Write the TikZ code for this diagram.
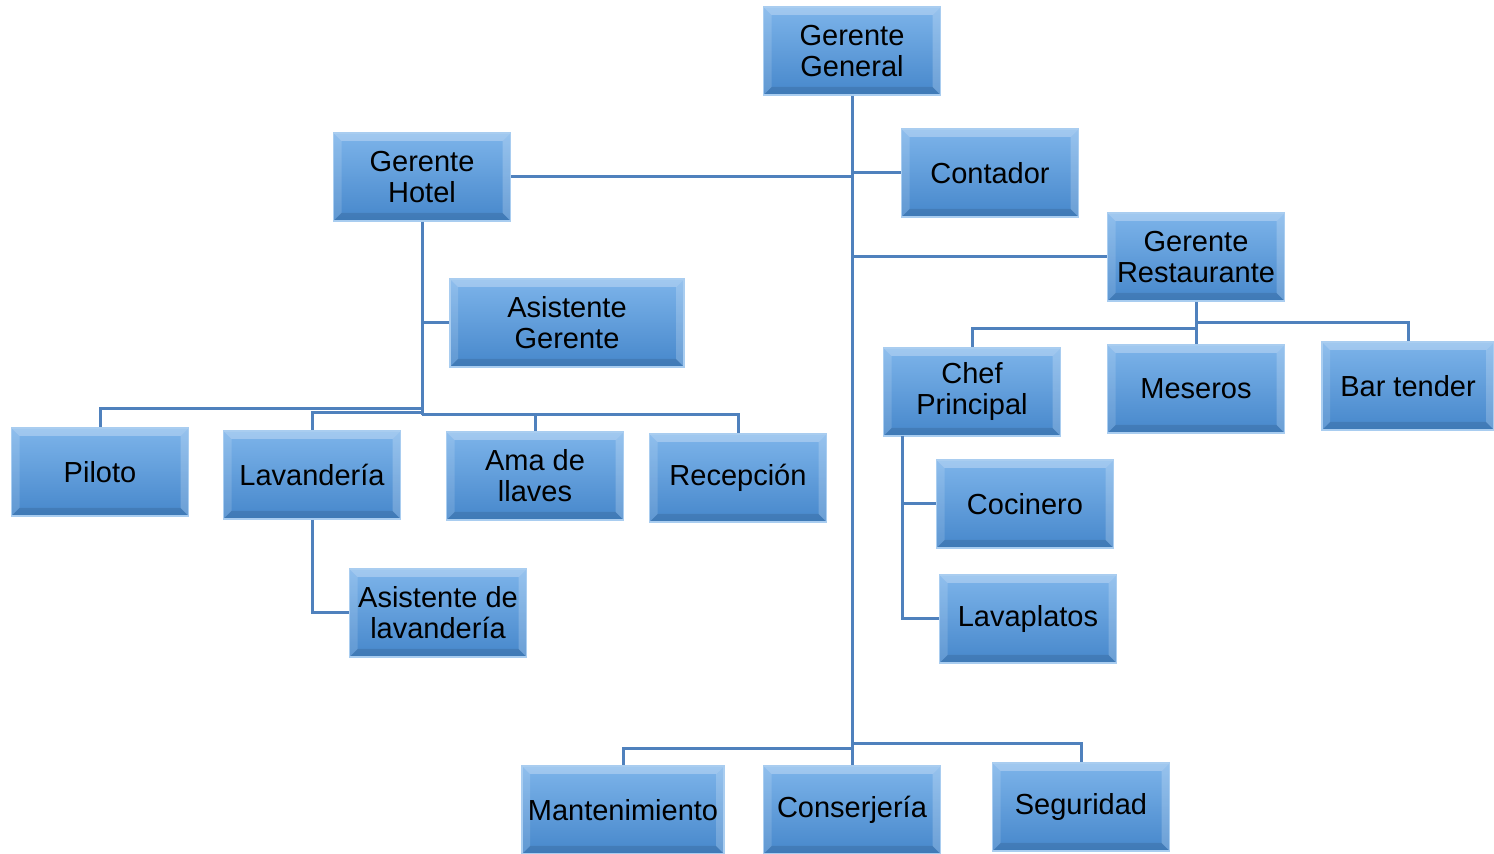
\documentclass[tikz,border=0pt]{standalone}
\usepackage{fontspec}
\setmainfont{Liberation Sans}
\usetikzlibrary{calc}
\definecolor{cajaarriba}{HTML}{7DB4EA}
\definecolor{cajaabajo}{HTML}{4687CB}
\definecolor{cajaborde}{HTML}{A9CDF0}
\definecolor{linea}{HTML}{4F81BD}
\tikzset{
  % node styles
  cargo/.style={rectangle, align=center, inner sep=0pt, minimum width=88.5pt, minimum height=44pt,
    top color=cajaarriba, bottom color=cajaabajo, draw=cajaborde, line width=0.8pt,
    font=\fontsize{14.5pt}{15.5pt}\selectfont,
    path picture={
      \fill[white,opacity=.28] (path picture bounding box.north west) -- (path picture bounding box.north east)
        -- ([shift={(-4pt,-4pt)}]path picture bounding box.north east) -- ([shift={(4pt,-4pt)}]path picture bounding box.north west) -- cycle;
      \fill[white,opacity=.14] (path picture bounding box.north west) -- (path picture bounding box.south west)
        -- ([shift={(4pt,4pt)}]path picture bounding box.south west) -- ([shift={(4pt,-4pt)}]path picture bounding box.north west) -- cycle;
      \fill[black,opacity=.10] (path picture bounding box.south west) -- (path picture bounding box.south east)
        -- ([shift={(-4pt,4pt)}]path picture bounding box.south east) -- ([shift={(4pt,4pt)}]path picture bounding box.south west) -- cycle;
      \fill[white,opacity=.20] (path picture bounding box.north east) -- (path picture bounding box.south east)
        -- ([shift={(-4pt,4pt)}]path picture bounding box.south east) -- ([shift={(-4pt,-4pt)}]path picture bounding box.north east) -- cycle;
    }},
  ancho/.style={cargo, minimum width=#1},
  % edge styles
  rama/.style={draw=linea, line width=1.5pt},
}

\begin{document}
\begin{tikzpicture}[x=0.5pt,y=-0.5pt]
  \useasboundingbox (0,0) rectangle (1494,854);
  % top level
  \node(GG)[cargo] at (852,51) {Gerente\\General};
  \node(GH)[cargo] at (422,177) {Gerente\\Hotel};
  \node(CT)[cargo] at (990,173) {Contador};
  \node(GR)[cargo] at (1196,257) {Gerente\\Restaurante};
  % hotel
  \node(AG)[ancho=117pt] at (567,323) {Asistente\\Gerente};
  \node(PI)[cargo] at (100,472) {Piloto};
  \node(LA)[cargo] at (312,475) {Lavandería};
  \node(AM)[cargo] at (535,476) {Ama de\\llaves};
  \node(RE)[cargo] at (738,478) {Recepción};
  \node(AL)[cargo] at (438,613) {Asistente de\\lavandería};
  % restaurante
  \node(CP)[cargo] at (972,392) {Chef\\Principal};
  \node(ME)[cargo] at (1196,389) {Meseros};
  \node(BT)[ancho=86pt] at (1408,386) {Bar tender};
  \node(CO)[cargo] at (1025,504) {Cocinero};
  \node(LP)[cargo] at (1028,619) {Lavaplatos};
  % bottom
  \node(MA)[ancho=101pt] at (623,810) {Mantenimiento};
  \node(CS)[cargo] at (852,810) {Conserjería};
  \node(SE)[cargo] at (1081,807) {Seguridad};

  % fork points
  \coordinate(GGX1) at (852,749);
  \coordinate(GGX2) at (852,744);
  \coordinate(GHX1) at (422,409);
  \coordinate(GHX2) at (422,413);
  \coordinate(GHX3) at (422,415);
  \coordinate(GRX1) at (1196,329);
  \coordinate(GRX2) at (1196,323);
  \coordinate(CPX1) at (902,436);

  % connectors
  \draw[rama] (GG.south) -- (GGX1);
  \draw[rama] (GH.east) -- (GH.east -| GG.south);
  \draw[rama] (CT.west) -- (CT.west -| GG.south);
  \draw[rama] (GR.west) -- (GR.west -| GG.south);
  \draw[rama] (GGX1) -| (MA.north);
  \draw[rama] (GGX1) -- (CS.north);
  \draw[rama] (GGX2) -| (SE.north);
  \draw[rama] (GH.south) -- (GHX3);
  \draw[rama] (AG.west) -- (AG.west -| GH.south);
  \draw[rama] (GHX1) -| (PI.north);
  \draw[rama] (GHX2) -| (LA.north);
  \draw[rama] (GHX3) -| (AM.north);
  \draw[rama] (GHX3) -| (RE.north);
  \draw[rama] (LA.south) |- (AL.west);
  \draw[rama] (GR.south) -- (ME.north);
  \draw[rama] (GRX1) -| (CP.north);
  \draw[rama] (GRX2) -| (BT.north);
  \draw[rama] (CPX1) |- (CO.west);
  \draw[rama] (CPX1) |- (LP.west);
\end{tikzpicture}
\end{document}
